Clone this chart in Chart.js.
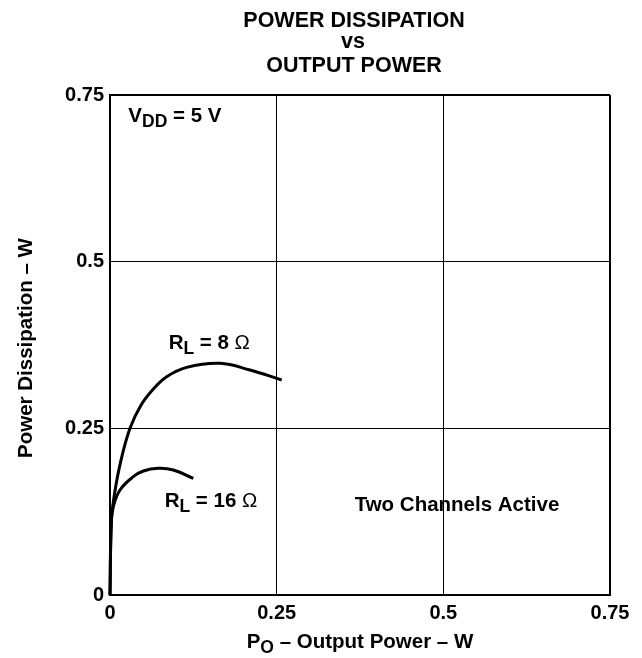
<!DOCTYPE html>
<html>
<head>
<meta charset="utf-8">
<script src="https://cdn.jsdelivr.net/npm/chart.js@4/dist/chart.umd.min.js"></script>
<style>
  html, body { margin: 0; padding: 0; background: #fff; }
  #wrap { width: 642px; height: 658px; }
</style>
</head>
<body>
<div id="wrap"><canvas id="pd"></canvas></div>
<script>
// output power (W) vs dissipated power (W), VDD = 5 V, both channels driven
const po8  = [0, 0.002, 0.0065, 0.016, 0.03, 0.046, 0.065, 0.085, 0.115, 0.165, 0.21, 0.2575];
const pd8  = [0, 0.11,  0.15,   0.2,   0.25, 0.284, 0.309, 0.3275, 0.3415, 0.3475, 0.3375, 0.3225];
const po16 = [0, 0.002, 0.005,  0.015,  0.035,  0.05,  0.0725, 0.095,  0.125];
const pd16 = [0, 0.11,  0.1325, 0.1575, 0.1775, 0.186, 0.19,   0.1875, 0.175];

const tickVals   = [0, 0.25, 0.5, 0.75];
const tickLabels = ['0', '0.25', '0.5', '0.75'];

const FONT = '"Liberation Sans", Arial, Helvetica, sans-serif';
const TXT = 20.5;

function pts(xs, ys) {
  return xs.map((x, i) => ({ x: x, y: ys[i] }));
}

function tickText(v) {
  const i = tickVals.findIndex(t => Math.abs(t - v) < 1e-9);
  return i < 0 ? '' : tickLabels[i];
}

// draws text runs, some of them lowered as subscripts
function richText(ctx, parts, x, y, size, align) {
  const fontOf = p => (p.light ? '' : 'bold ') + (p.sub ? size - 3 : size) + 'px ' + FONT;
  const widths = parts.map(p => {
    ctx.font = fontOf(p);
    return ctx.measureText(p.t).width;
  });
  const total = widths.reduce((a, b) => a + b, 0);
  let cx = align === 'center' ? x - total / 2 : x;
  ctx.textAlign = 'left';
  ctx.textBaseline = 'alphabetic';
  parts.forEach((p, i) => {
    ctx.font = fontOf(p);
    ctx.fillText(p.t, cx, p.sub ? y + 5 : y);
    cx += widths[i];
  });
}

const labelsPlugin = {
  id: 'labels',
  afterDraw(chart) {
    const ctx = chart.ctx;
    const xs = chart.scales.x, ys = chart.scales.y;
    const ca = chart.chartArea;
    ctx.save();
    ctx.fillStyle = '#000';

    // title
    ctx.textAlign = 'center';
    ctx.textBaseline = 'alphabetic';
    ctx.font = 'bold 21.5px ' + FONT;
    ctx.fillText('POWER DISSIPATION', 354, 27);
    ctx.fillText('vs', 353, 48);
    ctx.fillText('OUTPUT POWER', 354, 72);

    // axis titles
    richText(ctx, [{ t: 'P' }, { t: 'O', sub: true }, { t: ' \u2013 Output Power \u2013 W' }],
      (ca.left + ca.right) / 2, 648, TXT, 'center');
    ctx.save();
    ctx.translate(32, (ca.top + ca.bottom) / 2 + 3);
    ctx.rotate(-Math.PI / 2);
    ctx.textAlign = 'center';
    ctx.font = 'bold ' + TXT + 'px ' + FONT;
    ctx.fillText('Power Dissipation \u2013 W', 0, 0);
    ctx.restore();

    // annotations
    richText(ctx, [{ t: 'V' }, { t: 'DD', sub: true }, { t: ' = 5 V' }],
      xs.getPixelForValue(0.0275), ys.getPixelForValue(0.709), TXT, 'left');
    richText(ctx, [{ t: 'R' }, { t: 'L', sub: true }, { t: ' = 8 ' }, { t: '\u03A9', light: true }],
      xs.getPixelForValue(0.088), ys.getPixelForValue(0.369), TXT, 'left');
    richText(ctx, [{ t: 'R' }, { t: 'L', sub: true }, { t: ' = 16 ' }, { t: '\u03A9', light: true }],
      xs.getPixelForValue(0.082), ys.getPixelForValue(0.132), TXT, 'left');
    richText(ctx, [{ t: 'Two Channels Active' }],
      xs.getPixelForValue(0.367), ys.getPixelForValue(0.126), TXT, 'left');
    ctx.restore();
  }
};

const edgeWidth = c => (c.tick && Math.abs(c.tick.value - 0.75) < 1e-9 ? 2 : 1);

new Chart(document.getElementById('pd'), {
  type: 'scatter',
  data: {
    datasets: [
      { label: 'RL = 8 \u03A9', data: pts(po8, pd8) },
      { label: 'RL = 16 \u03A9', data: pts(po16, pd16) }
    ].map(d => Object.assign(d, {
      showLine: true,
      borderColor: '#000',
      borderWidth: 3,
      pointRadius: 0,
      tension: 0.4,
      fill: false,
      clip: 4
    }))
  },
  options: {
    responsive: true,
    maintainAspectRatio: false,
    animation: false,
    layout: { padding: { top: 95, right: 32, bottom: 0, left: 0 } },
    plugins: {
      legend: { display: false },
      title: { display: false },
      tooltip: { enabled: false }
    },
    scales: {
      x: {
        type: 'linear',
        min: 0, max: 0.75,
        afterFit(s) { s.height = 63; },
        afterBuildTicks(s) { s.ticks = tickVals.map(v => ({ value: v })); },
        grid: { color: '#000', lineWidth: edgeWidth, drawTicks: false },
        border: { color: '#000', width: 2 },
        ticks: {
          color: '#000', padding: 6, maxRotation: 0,
          font: { family: FONT, size: 20, weight: 'bold' },
          callback: v => tickText(v)
        }
      },
      y: {
        type: 'linear',
        min: 0, max: 0.75,
        afterFit(s) { s.width = 110; },
        afterBuildTicks(s) { s.ticks = tickVals.map(v => ({ value: v })); },
        grid: { color: '#000', lineWidth: edgeWidth, drawTicks: false },
        border: { color: '#000', width: 2 },
        ticks: {
          color: '#000', padding: 6,
          font: { family: FONT, size: 20, weight: 'bold' },
          callback: v => tickText(v)
        }
      }
    }
  },
  plugins: [labelsPlugin]
});
</script>
</body>
</html>
